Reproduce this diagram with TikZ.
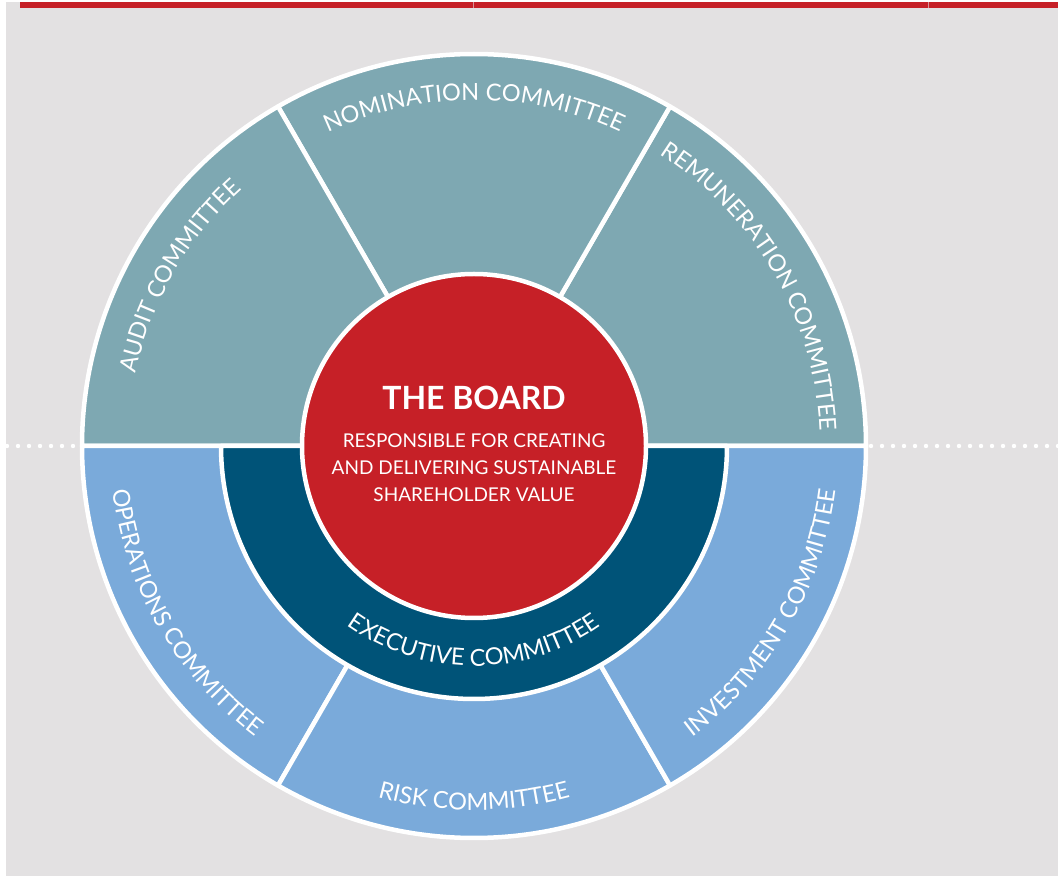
\documentclass[tikz,border=0pt]{standalone}
\usepackage{fontspec}
\setmainfont{Lato}
\usetikzlibrary{decorations.text}
\definecolor{bggray}{HTML}{E3E1E2}
\definecolor{boardred}{HTML}{C62027}
\definecolor{upteal}{HTML}{7EA8B2}
\definecolor{lowblue}{HTML}{7AAADA}
\definecolor{execblue}{HTML}{005378}

\begin{document}
\begin{tikzpicture}[x=1pt,y=1pt,
  sector/.style={draw=white,line width=4.5pt,line join=round},
  curved/.style={decorate,decoration={text along path,text align=center,
    text={|\color{white}\fontsize{23.5}{25}\selectfont|#1}}}]
\useasboundingbox (0,0) rectangle (1058,876);
\fill[white] (0,0) rectangle (1058,876);
\fill[bggray] (6,0) rectangle (1058,874);
\fill[boardred] (20,868) rectangle (1058,873.7);
\draw[bggray!60!boardred,line width=1pt] (473,868) -- (473,873.7);
\draw[bggray!60!boardred,line width=1pt] (928,868) -- (928,873.7);
% dotted rule
\foreach \x in {7,18,...,73} \fill[white] (\x,430) circle (2.2);
\foreach \x in {871,882,...,1058} \fill[white] (\x,430) circle (2.2);
\begin{scope}[shift={(474,430)}]
% committees
\foreach \a/\col in {0/upteal,60/upteal,120/upteal,180/lowblue,240/lowblue,300/lowblue}
  \filldraw[sector,fill=\col] (0,0) -- (\a:392) arc (\a:\a+60:392) -- cycle;
\filldraw[sector,fill=execblue] (180:253) arc (180:360:253) -- cycle;
\filldraw[sector,fill=boardred] (0,0) circle (172);
\path[curved=AUDIT COMMITTEE] (180:346) arc (180:120:346);
\path[curved=NOMINATION COMMITTEE] (120:346) arc (120:60:346);
\path[curved=REMUNERATION COMMITTEE] (60:346) arc (60:0:346);
\path[curved=OPERATIONS COMMITTEE] (180:364) arc (180:240:364);
\path[curved=RISK COMMITTEE] (240:364) arc (240:300:364);
\path[curved=INVESTMENT COMMITTEE] (300:364) arc (300:360:364);
\path[curved=EXECUTIVE COMMITTEE] (180:220) arc (180:360:220);
\node[text=white,font=\bfseries\fontsize{32}{34}\selectfont] (title) at (0,48) {THE BOARD};
\node[text=white,font=\fontsize{19}{27}\selectfont,align=center] (remit) at (0,-22)
  {RESPONSIBLE FOR CREATING\\AND DELIVERING SUSTAINABLE\\SHAREHOLDER VALUE};
\end{scope}
\end{tikzpicture}
\end{document}
